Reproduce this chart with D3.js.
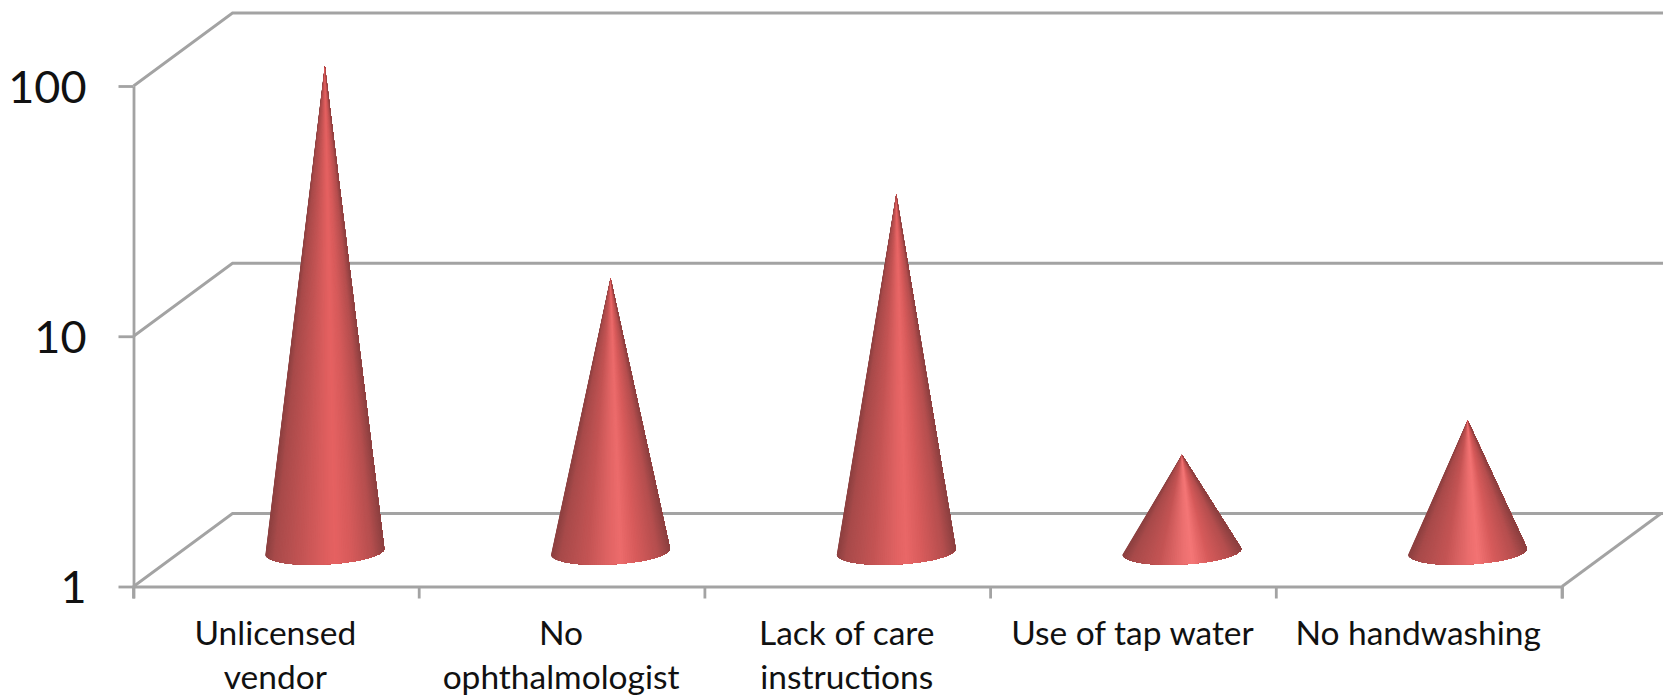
<!DOCTYPE html>
<html>
<head>
<meta charset="utf-8">
<script src="https://cdn.jsdelivr.net/npm/d3@7"></script>
<style>
  html, body { margin: 0; background: #fff; }
  svg { display: block; }
  text { font-family: Lato, "Open Sans", sans-serif; fill: #111; }
  .domain, .tick line, .wall { stroke: #a3a3a3; stroke-width: 2.8; fill: none; }
</style>
</head>
<body>
<div id="chart"></div>
<script>
var categories = ["Unlicensed vendor", "No ophthalmologist", "Lack of care instructions", "Use of tap water", "No handwashing"];
var values = [86, 12.2, 26.4, 2.4, 3.3];
var yTicks = [1, 10, 100];
var wrapped = [["Unlicensed", "vendor"], ["No", "ophthalmologist"], ["Lack of care", "instructions"], ["Use of tap water"], ["No handwashing"]];

var width = 1663, height = 695;
var plot = { left: 133.5, right: 1562, top: 86, bottom: 586.5 };
// offset of the back wall from the front plane
var depth = { x: 99, y: -73 };

var svg = d3.select("#chart").append("svg").attr("width", width).attr("height", height);

var xScale = d3.scaleBand().domain(categories).range([plot.left, plot.right]);
var yScale = d3.scaleLog().domain([1, 100]).range([plot.bottom, plot.top]);

// back wall and side wall gridlines
yTicks.forEach(function(t) {
  svg.append("polyline")
    .attr("class", "wall")
    .attr("points", [[plot.left, yScale(t)], [plot.left + depth.x, yScale(t) + depth.y], [width, yScale(t) + depth.y]].join(" "));
});

// floor right edge
svg.append("line")
  .attr("class", "wall")
  .attr("x1", plot.right).attr("y1", plot.bottom)
  .attr("x2", plot.right + depth.x).attr("y2", plot.bottom + depth.y);

// axes
var yAxis = d3.axisLeft(yScale).tickValues(yTicks).tickFormat(d3.format("d")).tickSize(15).tickSizeOuter(0);
var gy = svg.append("g").attr("transform", "translate(" + plot.left + ",0)").call(yAxis);
gy.selectAll("text").attr("x", -47).attr("dy", "0.36em").style("font-size", "45px");

var xAxis = d3.axisBottom(xScale).tickSize(0).tickSizeOuter(12);
var gx = svg.append("g").attr("transform", "translate(0," + plot.bottom + ")").call(xAxis);
gx.selectAll(".tick text").remove();

// category ticks sit on the band edges
var edges = categories.map(function(c) { return xScale(c); }).concat(plot.right);
gx.selectAll(".edge").data(edges).enter().append("line")
  .attr("class", "edge")
  .attr("x1", function(d) { return d; }).attr("x2", function(d) { return d; })
  .attr("y1", 0).attr("y2", 12)
  .style("stroke", "#a3a3a3").style("stroke-width", 2.8);

// wrapped category labels
svg.selectAll(".cat").data(categories).enter().append("text")
  .attr("class", "cat")
  .attr("text-anchor", "middle")
  .style("font-size", "33.5px")
  .each(function(d, i) {
    var t = d3.select(this);
    wrapped[i].forEach(function(line, j) {
      t.append("tspan")
        .attr("x", xScale(d) + xScale.bandwidth() / 2 - 1)
        .attr("y", 645 + j * 44)
        .text(line);
    });
  });

// taller cones have a duller highlight
var highlight = d3.scaleLinear().domain([50, 200, 500]).range(["#f87a7a", "#ef6e6e", "#e46060"]);

var baseRx = 59.5, baseRy = 13, tilt = -3 * Math.PI / 180;

values.forEach(function(v, i) {
  var cx = xScale(categories[i]) + xScale.bandwidth() / 2 + depth.x / 2 - 1;
  var cy = plot.bottom + depth.y / 2 + 1.5;
  var apexY = yScale(v) + depth.y / 2;
  var top = highlight(cy - apexY);

  // shading across the width, dark at both edges with the highlight right of centre
  var shade = d3.scaleLinear()
    .domain([0, 0.07, 0.3, 0.5, 0.58, 0.72, 0.9, 1])
    .range(["#8c4040", "#a84a4a", "#c45454", d3.interpolateRgb("#c45454", top)(0.8), top, "#d65a5a", "#b44e4e", "#8c4040"]);

  // points along the front half of the tilted base ellipse
  var pts = d3.range(0, 91).map(function(k) {
    var a = Math.PI - Math.PI * k / 90;
    var ex = baseRx * Math.cos(a), ey = baseRy * Math.sin(a);
    return [cx + ex * Math.cos(tilt) - ey * Math.sin(tilt), cy + ex * Math.sin(tilt) + ey * Math.cos(tilt)];
  });

  // each slice runs to the far edge and the next one paints over it, so no seams show
  var g = svg.append("g");
  g.selectAll("path").data(d3.range(0, 90)).enter().append("path")
    .attr("d", function(k) { return "M" + cx + "," + apexY + "L" + pts.slice(k).join("L") + "Z"; })
    .attr("fill", function(k) { return shade((pts[k][0] - (cx - baseRx)) / (2 * baseRx)); });
});
</script>
</body>
</html>
